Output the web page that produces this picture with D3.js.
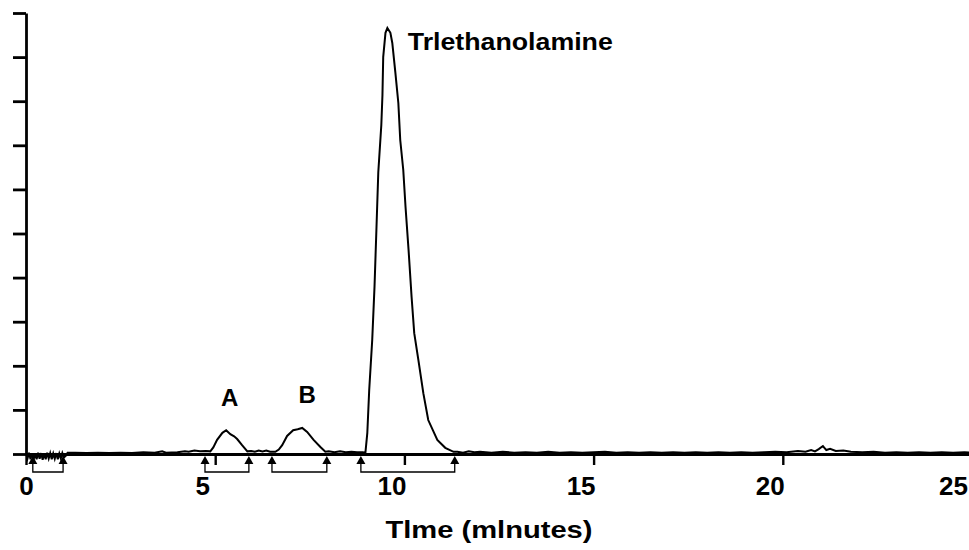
<!DOCTYPE html>
<html>
<head>
<meta charset="utf-8">
<script src="https://cdn.jsdelivr.net/npm/d3@7/dist/d3.min.js"></script>
<style>
body{margin:0;background:#fff;}
text{font-family:"Liberation Sans",Arial,sans-serif;font-weight:bold;fill:#000;}
</style>
</head>
<body>
<svg id="chart" width="969" height="550"></svg>
<script>
// detector trace, time in minutes / response (arbitrary units)
var traceTime = [
	0.00,0.04,0.08,0.12,0.16,0.20,0.24,0.28,0.32,0.36,0.40,0.44,0.48,0.52,0.56,0.60,0.64,0.68,0.72,0.76,0.80,0.84,0.88,0.92,0.96,1.00,1.05,1.10,
	1.30,1.60,1.90,2.20,2.50,2.80,3.10,3.40,3.60,3.70,4.00,4.20,4.30,4.45,4.60,4.75,4.87,
	4.95,5.05,5.19,5.29,5.40,5.50,5.58,5.71,5.85,
	5.95,6.05,6.15,6.25,6.35,6.45,6.59,
	6.68,6.77,6.90,7.06,7.18,7.30,7.43,7.60,7.78,7.91,
	8.00,8.15,8.30,8.45,8.60,8.75,8.90,8.97,
	9.02,9.07,9.15,9.21,9.26,9.31,9.39,9.42,9.44,9.50,9.55,9.63,9.68,9.76,9.84,9.89,9.97,10.03,10.11,10.19,10.26,10.37,10.50,10.63,10.87,11.08,11.30,
	11.40,11.55,11.70,11.85,12.00,12.30,12.60,12.90,13.20,13.50,13.80,14.10,14.40,14.70,15.00,15.30,15.60,15.90,16.20,16.50,16.80,17.10,17.40,17.70,18.00,18.30,18.60,18.90,19.20,19.50,19.80,
	20.10,20.40,20.60,20.75,20.85,20.95,21.06,21.15,21.25,21.40,21.60,21.80,22.10,22.40,22.70,23.00,23.30,23.60,23.90,24.20,24.50,24.80,25.00
];
var traceSignal = [
	0.02,-0.10,0.03,-0.12,0.02,-0.13,0.01,-0.12,0.03,-0.11,0.02,-0.13,0.01,-0.12,0.03,-0.10,0.02,-0.12,0.01,-0.11,0.02,-0.12,0.01,-0.10,0.02,-0.08,-0.04,0.03,
	0.03,0.02,0.03,0.02,0.03,0.02,0.04,0.03,0.06,0.03,0.04,0.06,0.05,0.08,0.06,0.07,0.06,
	0.15,0.32,0.48,0.54,0.45,0.40,0.34,0.20,0.06,
	0.07,0.05,0.08,0.06,0.08,0.05,0.05,
	0.10,0.20,0.41,0.54,0.56,0.59,0.50,0.32,0.16,0.05,
	0.06,0.04,0.06,0.04,0.05,0.04,0.04,0.03,
	0.48,1.45,2.59,3.79,5.08,6.39,7.46,8.14,9.00,9.55,9.66,9.55,9.32,8.66,7.96,7.12,6.44,5.60,4.63,3.56,2.74,2.13,1.38,0.77,0.32,0.14,0.05,
	0.05,0.03,0.06,0.04,0.05,0.03,0.05,0.03,0.04,0.03,0.05,0.03,0.04,0.03,0.04,0.05,0.03,0.04,0.03,0.04,0.03,0.04,0.03,0.04,0.03,0.04,0.03,0.04,0.03,0.04,0.05,
	0.04,0.07,0.05,0.09,0.06,0.11,0.18,0.09,0.12,0.07,0.08,0.05,0.04,0.05,0.03,0.04,0.03,0.04,0.03,0.04,0.03,0.04,0.03
];
// integration windows (start, end) in minutes
var peakStart = [0.18, 4.73, 6.50, 8.85];
var peakEnd = [0.98, 5.89, 7.95, 11.33];
// peak labels
var labelText = ["A", "B", "Trlethanolamine"];
var labelTime = [5.38, 7.43, 10.09];
var labelValue = [1.09, 1.16, 9.15];
var xTicks = [0, 5, 10, 15, 20, 25];
var yTicks = [0, 1, 2, 3, 4, 5, 6, 7, 8, 9, 10];
var xTitle = "Tlme (mlnutes)";

var svg = d3.select("#chart");
var x = d3.scaleLinear().domain([0, 25]).range([26, 972]);
var y = d3.scaleLinear().domain([0, 10]).range([454, 13]);

// y axis: bare ticks, no labels
var yAxis = svg.append("g").attr("transform", "translate(26,0)")
		.call(d3.axisLeft(y).tickValues(yTicks).tickSize(13).tickSizeOuter(0).tickFormat(""));
yAxis.select(".domain").attr("stroke-width", 2.8);
yAxis.selectAll(".tick line").attr("stroke-width", 2.8);

// x axis
var xAxis = svg.append("g").attr("transform", "translate(0," + y(0) + ")")
		.call(d3.axisBottom(x).tickValues(xTicks).tickSize(11).tickSizeOuter(0));
xAxis.select(".domain").attr("stroke-width", 3);
xAxis.selectAll(".tick line").attr("stroke-width", 2.4);
xAxis.selectAll(".tick text")
		.attr("y", 41).attr("dy", null)
		.attr("dx", function(d){return d === 0 ? 0 : (d === 25 ? -19 : -13);})
		.style("font-size", "26px").style("font-weight", "bold")
		.style("font-family", "'Liberation Sans',Arial,sans-serif");
xAxis.attr("font-size", null).attr("font-family", null);

// integration markers: up-arrows joined by a bracket under the baseline
var base = y(0);
var marks = svg.append("g").attr("class", "marks");
peakStart.forEach(function(t0, i){
	var x0 = x(t0), x1 = x(peakEnd[i]);
	marks.append("path")
		.attr("d", "M" + x0 + "," + (base + 4) + "V" + (base + 18) + "H" + x1 + "V" + (base + 4))
		.attr("fill", "none").attr("stroke", "#000").attr("stroke-width", 1.3);
	[x0, x1].forEach(function(px){
		marks.append("path")
			.attr("d", "M" + (px - 4.5) + "," + (base + 10) + "L" + px + "," + (base + 2) + "L" + (px + 4.5) + "," + (base + 10) + "Z")
			.attr("fill", "#000");
	});
});

// the trace
var pts = traceTime.map(function(t, i){return [t, traceSignal[i]];});
var line = d3.line().x(function(d){return x(d[0]);}).y(function(d){return y(d[1]);});
svg.append("path").datum(pts)
	.attr("d", line)
	.attr("fill", "none").attr("stroke", "#000").attr("stroke-width", 2)
	.attr("stroke-linejoin", "miter");

// peak labels
svg.selectAll(".peak-label").data(labelText).enter().append("text")
	.attr("class", "peak-label")
	.attr("x", function(d, i){return x(labelTime[i]);})
	.attr("y", function(d, i){return y(labelValue[i]);})
	.attr("text-anchor", function(d, i){return i < 2 ? "middle" : "start";})
	.style("font-size", function(d, i){return i < 2 ? "24px" : "23px";})
	.attr("textLength", function(d, i){return i < 2 ? null : 205;})
	.attr("lengthAdjust", "spacingAndGlyphs")
	.text(function(d){return d;});

// x axis title
svg.append("text")
	.attr("x", 489).attr("y", 538)
	.attr("text-anchor", "middle")
	.attr("textLength", 207).attr("lengthAdjust", "spacingAndGlyphs")
	.style("font-size", "24px")
	.text(xTitle);
</script>
</body>
</html>
